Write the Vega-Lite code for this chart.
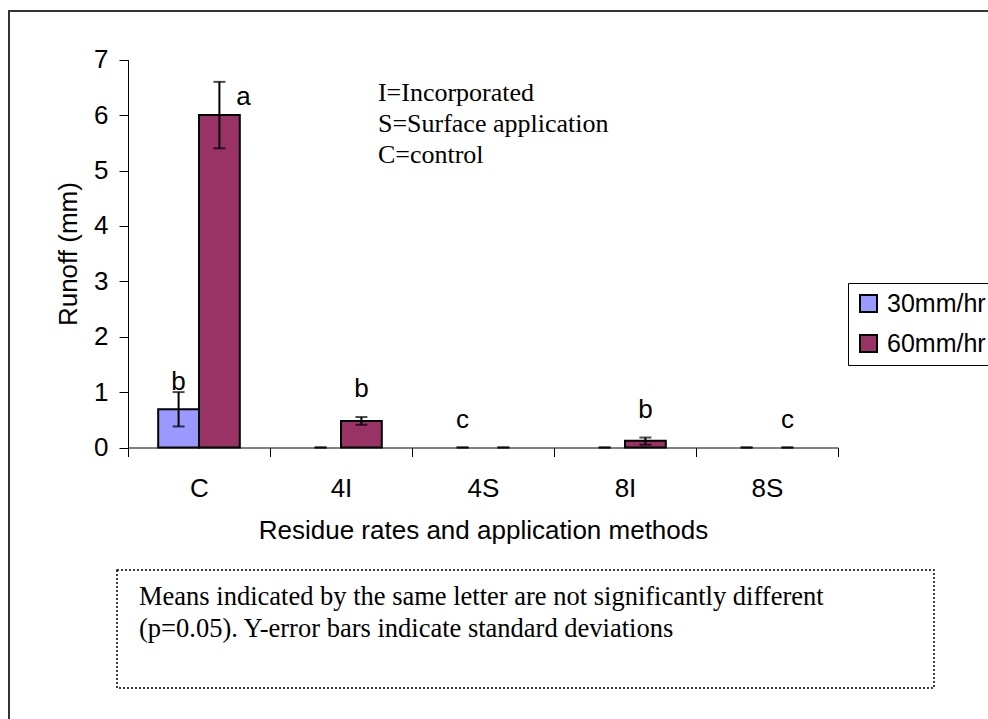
{
  "$schema": "https://vega.github.io/schema/vega-lite/v6.json",
  "width": 982,
  "height": 711,
  "autosize": {"type": "none"},
  "padding": {"left": 9, "top": 11, "right": -3, "bottom": -3},
  "background": "white",
  "config": {
    "view": {"stroke": "#333333", "strokeWidth": 2},
    "font": "Liberation Sans",
    "axis": {"labelFont": "Liberation Sans", "titleFont": "Liberation Sans", "grid": false}
  },
  "data": {
    "values": [
      {"category": "C", "series": "30mm/hr", "value": 0.69, "lo": 0.38, "hi": 1.0, "letter": "b"},
      {"category": "C", "series": "60mm/hr", "value": 6.0, "lo": 5.4, "hi": 6.6, "letter": "a"},
      {"category": "4I", "series": "30mm/hr", "value": 0, "lo": 0, "hi": 0, "letter": ""},
      {"category": "4I", "series": "60mm/hr", "value": 0.48, "lo": 0.41, "hi": 0.55, "letter": "b"},
      {"category": "4S", "series": "30mm/hr", "value": 0, "lo": 0, "hi": 0, "letter": "c"},
      {"category": "4S", "series": "60mm/hr", "value": 0, "lo": 0, "hi": 0, "letter": ""},
      {"category": "8I", "series": "30mm/hr", "value": 0, "lo": 0, "hi": 0, "letter": ""},
      {"category": "8I", "series": "60mm/hr", "value": 0.12, "lo": 0.05, "hi": 0.18, "letter": "b"},
      {"category": "8S", "series": "30mm/hr", "value": 0, "lo": 0, "hi": 0, "letter": ""},
      {"category": "8S", "series": "60mm/hr", "value": 0, "lo": 0, "hi": 0, "letter": "c"}
    ]
  },
  "layer": [
    {
      "transform": [{"filter": "datum.value > 0"}],
      "mark": {"type": "bar", "stroke": "black", "strokeWidth": 2},
      "encoding": {
        "x": {
          "field": "category", "type": "nominal",
          "sort": ["C", "4I", "4S", "8I", "8S"],
          "scale": {"domain": ["C", "4I", "4S", "8I", "8S"], "range": [119, 829], "paddingInner": 0, "paddingOuter": 0},
          "axis": {
            "title": "Residue rates and application methods",
            "offset": -274.5, "tickBand": "extent", "tickSize": 9, "labelPadding": 19, "labelAngle": 0,
            "labelFontSize": 26, "labelColor": "black", "domainColor": "black", "tickColor": "black",
            "titleFontSize": 26, "titleFontWeight": "normal", "titleColor": "black", "titlePadding": 16
          }
        },
        "xOffset": {
          "field": "series", "type": "nominal",
          "scale": {"domain": ["30mm/hr", "60mm/hr"], "paddingOuter": 0.74, "paddingInner": 0}
        },
        "y": {
          "field": "value", "type": "quantitative",
          "scale": {"domain": [0, 7], "range": [436.5, 48.7], "nice": false, "zero": false},
          "axis": {
            "title": "Runoff (mm)", "values": [0, 1, 2, 3, 4, 5, 6, 7], "format": "d", "offset": -119,
            "tickSize": 9, "labelPadding": 11, "labelFontSize": 26, "labelColor": "black",
            "labelFlush": false, "labelOverlap": false,
            "domainColor": "black", "tickColor": "black",
            "titleFontSize": 26, "titleFontWeight": "normal", "titleColor": "black", "titlePadding": 12
          }
        },
        "fill": {
          "field": "series", "type": "nominal",
          "scale": {"domain": ["30mm/hr", "60mm/hr"], "range": ["#9999FF", "#993366"]},
          "legend": {
            "title": null, "orient": "none", "legendX": 839, "legendY": 272,
            "strokeColor": "black", "padding": 8, "symbolType": "square", "symbolSize": 289,
            "symbolStrokeColor": "black", "symbolStrokeWidth": 2, "symbolOpacity": 1,
            "labelFont": "Liberation Sans", "labelFontSize": 25, "labelColor": "black",
            "labelOffset": 6, "rowPadding": 14
          }
        }
      }
    },
    {
      "mark": {"type": "rule", "color": "black", "strokeWidth": 2},
      "encoding": {
        "x": {"field": "category", "type": "nominal"},
        "xOffset": {"field": "series", "type": "nominal"},
        "y": {"field": "lo", "type": "quantitative"},
        "y2": {"field": "hi"}
      }
    },
    {
      "mark": {"type": "tick", "color": "black", "size": 12, "thickness": 2, "orient": "horizontal"},
      "encoding": {
        "x": {"field": "category", "type": "nominal"},
        "xOffset": {"field": "series", "type": "nominal"},
        "y": {"field": "lo", "type": "quantitative"}
      }
    },
    {
      "mark": {"type": "tick", "color": "black", "size": 12, "thickness": 2, "orient": "horizontal"},
      "encoding": {
        "x": {"field": "category", "type": "nominal"},
        "xOffset": {"field": "series", "type": "nominal"},
        "y": {"field": "hi", "type": "quantitative"}
      }
    },
    {
      "transform": [{"filter": "datum.letter != '' && datum.category != 'C'"}],
      "mark": {"type": "text", "font": "Liberation Sans", "fontSize": 26, "color": "black", "baseline": "middle", "dy": -28},
      "encoding": {
        "x": {"field": "category", "type": "nominal"},
        "xOffset": {"field": "series", "type": "nominal"},
        "y": {"field": "hi", "type": "quantitative"},
        "text": {"field": "letter"}
      }
    },
    {
      "transform": [{"filter": "datum.category == 'C' && datum.series == '30mm/hr'"}],
      "mark": {"type": "text", "font": "Liberation Sans", "fontSize": 26, "color": "black", "baseline": "middle", "dy": -10},
      "encoding": {
        "x": {"field": "category", "type": "nominal"},
        "xOffset": {"field": "series", "type": "nominal"},
        "y": {"field": "hi", "type": "quantitative"},
        "text": {"field": "letter"}
      }
    },
    {
      "transform": [{"filter": "datum.letter == 'a'"}],
      "mark": {"type": "text", "font": "Liberation Sans", "fontSize": 26, "color": "black", "baseline": "middle", "dx": 24, "dy": 15},
      "encoding": {
        "x": {"field": "category", "type": "nominal"},
        "xOffset": {"field": "series", "type": "nominal"},
        "y": {"field": "hi", "type": "quantitative"},
        "text": {"field": "letter"}
      }
    },
    {
      "data": {"values": [{"note": "legend"}]},
      "mark": {
        "type": "text", "font": "Liberation Serif", "fontSize": 26, "color": "black",
        "align": "left", "baseline": "middle", "lineHeight": 31,
        "text": ["I=Incorporated", "S=Surface application", "C=control"]
      },
      "encoding": {
        "x": {"datum": "4I", "type": "nominal", "bandPosition": 0.76},
        "y": {"datum": 6.4, "type": "quantitative"}
      }
    },
    {
      "data": {"values": [{"note": "box"}]},
      "mark": {"type": "rect", "fill": "transparent", "stroke": "black", "strokeWidth": 1.5, "strokeDash": [2, 2]},
      "encoding": {
        "x": {"datum": "C", "type": "nominal", "bandPosition": -0.0775},
        "x2": {"datum": "8S", "bandPosition": 1.676},
        "y": {"datum": -2.211, "type": "quantitative"},
        "y2": {"datum": -4.341}
      }
    },
    {
      "data": {"values": [{"note": "text"}]},
      "mark": {
        "type": "text", "font": "Liberation Serif", "fontSize": 26.5, "color": "black",
        "align": "left", "baseline": "middle", "lineHeight": 32,
        "text": ["Means indicated by the same letter are not significantly different", "(p=0.05). Y-error bars indicate standard deviations"]
      },
      "encoding": {
        "x": {"datum": "C", "type": "nominal", "bandPosition": 0.0775},
        "y": {"datum": -2.69, "type": "quantitative"}
      }
    }
  ]
}
